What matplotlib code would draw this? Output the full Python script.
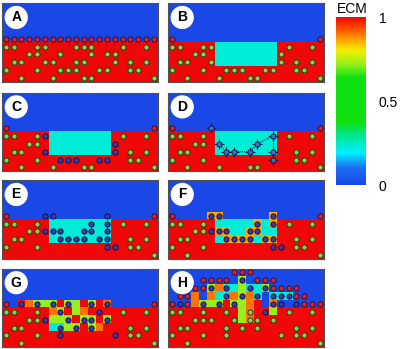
import numpy as np
import matplotlib
matplotlib.use("Agg")
import matplotlib.pyplot as plt
from matplotlib.colors import LinearSegmentedColormap

plt.rcParams['font.family'] = ['Liberation Sans', 'DejaVu Sans']

# ECM level for each letter code in the grids below
ecm_codes = {"b": 0.0, "c": 0.23, "l": 0.72, "a": 0.86, "o": 0.9, "r": 1.0}

cmap_stops = [0.0, 0.1, 0.19, 0.3, 0.37, 0.64, 0.72, 0.8, 0.86, 0.93, 1.0]
cmap_cols = ["#1a48e6", "#1e6ef0", "#00f0ff", "#00e68c", "#10e010", "#10e010",
             "#96f01e", "#f0f000", "#ffaa00", "#ff5000", "#f00808"]

BLUE = "bbbbbbbbbbbbbbbbbbbb"
RED = "rrrrrrrrrrrrrrrrrrrr"
HOLE = "rrrrrrccccccccrrrrrr"

# grids: top row first, 20 columns x 10 rows
ecm_A = [BLUE] * 5 + [RED] * 5
ecm_B = [BLUE] * 5 + [HOLE] * 3 + [RED] * 2
ecm_F = [BLUE] * 4 + ["bbbbbaabbbbbbabbbbbb",
                      "rrrrrrcccccacarrrrrr",
                      "rrrrrraaccaaccrrrrrr",
                      "rrrrrrcaaaacaarrrrrr"] + [RED] * 2
ecm_G = [BLUE] * 4 + ["bbrolllrllrlrobbbbbb",
                      "rrrrrrolrlorrrrrrrrr",
                      "rrrrrrlllrllrlrrrrrr",
                      "rrrrrrccllrlorrrrrrr"] + [RED] * 2
ecm_H = [BLUE,
         "bbbbbbbbblbbbbbbbbbb",
         "bbbbblocclcclbbbbbbb",
         "bbboboccolocbcccbbbb",
         "bbbolllrllorbobbbbbb",
         "rrrrrrrrrlorrlrrrrrr",
         "rrrrrrrrrlorrrrrrrrr"] + [RED] * 3

# cells as (column, row), row 0 at the bottom
green_A = [(0, 4), (1, 4), (4, 4), (5, 4), (9, 4), (10, 4), (11, 4), (15, 4), (18, 4),
           (3, 3), (4, 3), (7, 3), (11, 3), (13, 3), (14, 3),
           (1, 2), (2, 2), (5, 2), (6, 2), (9, 2), (10, 2), (14, 2), (16, 2), (18, 2),
           (0, 1), (4, 1), (7, 1), (8, 1), (9, 1), (12, 1), (13, 1), (16, 1), (17, 1),
           (2, 0), (6, 0), (10, 0), (11, 0), (19, 0)]
red_A = [(c, 5) for c in range(20)]

green_B = [(0, 4), (1, 4), (4, 4), (5, 4), (15, 4), (18, 4),
           (3, 3), (4, 3), (14, 3),
           (1, 2), (2, 2), (5, 2), (14, 2), (16, 2), (18, 2),
           (0, 1), (4, 1), (7, 1), (8, 1), (9, 1), (12, 1), (13, 1), (16, 1), (17, 1),
           (2, 0), (6, 0), (10, 0), (11, 0), (19, 0)]
edge_red = [(0, 5), (19, 5)]

green_C = [(0, 4), (1, 4), (4, 4), (15, 4), (18, 4), (3, 3), (4, 3),
           (1, 2), (2, 2), (16, 2), (18, 2), (0, 1), (4, 1), (16, 1), (17, 1),
           (2, 0), (6, 0), (10, 0), (11, 0), (19, 0)]
blue_C = [(5, 4), (14, 3), (5, 2), (14, 2), (7, 1), (8, 1), (9, 1), (12, 1), (13, 1)]

blue_D = [(5, 5), (6, 3), (7, 2), (8, 2), (10, 2), (11, 3), (13, 4), (13, 2), (13, 1)]
path_D = [(6, 3), (7, 2), (8, 2), (10, 2), (11, 3), (13, 4), (13, 2), (13, 1)]

green_E = [(0, 4), (1, 4), (4, 4), (15, 4), (18, 4), (3, 3), (4, 3),
           (1, 2), (2, 2), (16, 2), (18, 2), (0, 1), (4, 1), (16, 1), (17, 1), (19, 0)]
blue_E = [(5, 5), (6, 5), (13, 5), (11, 4), (13, 4),
          (5, 3), (6, 3), (7, 3), (10, 3), (11, 3), (13, 3),
          (7, 2), (8, 2), (9, 2), (10, 2), (12, 2), (13, 2), (13, 1), (14, 1)]

green_F = [(0, 4), (1, 4), (4, 4), (15, 4), (18, 4), (3, 3), (4, 3),
           (1, 2), (2, 2), (16, 2), (18, 2), (0, 1), (4, 1), (16, 1), (17, 1),
           (2, 0), (19, 0)]
blue_F = [(5, 5), (6, 5), (13, 5), (11, 4), (13, 4),
          (5, 3), (6, 3), (7, 3), (10, 3), (11, 3),
          (7, 2), (8, 2), (9, 2), (10, 2), (12, 2), (13, 2), (13, 1), (14, 1)]

blue_G = [(2, 5), (4, 5), (6, 5), (8, 5), (11, 5), (13, 5), (7, 4), (12, 4),
          (5, 3), (8, 3), (10, 3), (11, 3), (13, 3), (7, 2), (9, 2), (11, 2),
          (7, 1), (14, 1)]

red_H = [(8, 9), (9, 9), (10, 9),
         (4, 8), (5, 8), (6, 8), (7, 8), (11, 8), (12, 8), (13, 8),
         (3, 7), (4, 7), (13, 7), (14, 7), (15, 7), (16, 7),
         (1, 6), (2, 6), (16, 6), (17, 6),
         (0, 5), (2, 5), (17, 5), (18, 5), (19, 5)]
blue_H = [(9, 8), (5, 7), (7, 7), (10, 7), (12, 7),
          (7, 6), (9, 6), (11, 6), (13, 6), (14, 6), (15, 6),
          (1, 5), (4, 5), (6, 5), (8, 5), (13, 5), (14, 5), (16, 5), (12, 4)]
green_H = [(0, 4), (1, 4), (4, 4), (7, 4), (10, 4), (15, 4), (18, 4),
           (3, 3), (4, 3), (5, 3), (8, 3), (10, 3), (11, 3), (13, 3),
           (1, 2), (2, 2), (7, 2), (9, 2), (11, 2), (16, 2), (18, 2),
           (0, 1), (4, 1), (7, 1), (14, 1), (16, 1), (17, 1), (2, 0), (19, 0)]

panels = {
    "A": (ecm_A, green_A, red_A, []),
    "B": (ecm_B, green_B, edge_red, []),
    "C": (ecm_B, green_C, edge_red, blue_C),
    "D": (ecm_B, green_C, edge_red, blue_D),
    "E": (ecm_B, green_E, edge_red, blue_E),
    "F": (ecm_F, green_F, edge_red, blue_F),
    "G": (ecm_G, green_F, edge_red, blue_G),
    "H": (ecm_H, green_H, red_H, blue_H),
}

cmap = LinearSegmentedColormap.from_list("ecm", list(zip(cmap_stops, cmap_cols)))

W, H = 401, 349
fig = plt.figure(figsize=(W / 100, H / 100), dpi=100)

lefts = [2, 168]
tops = [3.3, 92.7, 180.3, 268.5]
pw, ph = 155.5, 78.7


def draw_cells(ax, pts, face, edge):
    if not pts:
        return
    xs = [c + 0.5 for c, r in pts]
    ys = [r + 0.5 for c, r in pts]
    ax.scatter(xs, ys, s=14, c=face, edgecolors=edge, linewidths=0.7, zorder=4)


for i, (name, (grid, green, red, blue)) in enumerate(panels.items()):
    row, col = divmod(i, 2)
    ax = fig.add_axes([lefts[col] / W, 1 - (tops[row] + ph) / H, pw / W, ph / H])
    vals = np.array([[ecm_codes[ch] for ch in line] for line in grid])
    ax.imshow(vals, cmap=cmap, vmin=0, vmax=1, extent=(0, 20, 0, 10),
              origin="upper", aspect="auto", interpolation="nearest")
    if name == "D":
        px = [c + 0.5 for c, r in path_D]
        py = [r + 0.5 for c, r in path_D]
        ax.plot(px[:6], py[:6], ls=(0, (1, 1)), color="#102040", lw=0.8, zorder=3)
        ax.plot(px[5:], py[5:], ls=(0, (1, 1)), color="#102040", lw=0.8, zorder=3)
        ax.scatter([c + 0.5 for c, r in blue], [r + 0.5 for c, r in blue], s=60,
                   marker="+", c="#102040", linewidths=0.8, zorder=3)
        draw_cells(ax, blue, "#4070c0", "#101840")
    else:
        draw_cells(ax, blue, "#3a3ab0", "#101040")
    draw_cells(ax, green, "#8fd14f", "#2a3a10")
    draw_cells(ax, red, "#d4213d", "#3b1020")
    ax.scatter([1.83], [8.2], s=280, c="white", edgecolors="none", zorder=5)
    ax.text(1.83, 8.2, name, ha="center", va="center", fontsize=10,
            fontweight="bold", zorder=6)
    ax.set_xlim(0, 20)
    ax.set_ylim(0, 10)
    ax.set_xticks([])
    ax.set_yticks([])
    for sp in ax.spines.values():
        sp.set_color("#505050")
        sp.set_linewidth(0.8)

cax = fig.add_axes([336 / W, 1 - 185 / H, 30 / W, 167.7 / H])
grad = np.linspace(0, 1, 256).reshape(-1, 1)
cax.imshow(grad, cmap=cmap, aspect="auto", origin="lower", extent=(0, 1, 0, 1))
cax.set_xticks([])
cax.yaxis.tick_right()
cax.set_yticks([0, 0.5, 1])
cax.set_yticklabels(["0", "0.5", "1"])
cax.tick_params(axis="y", length=0, pad=9, labelsize=10)
for sp in cax.spines.values():
    sp.set_visible(False)
fig.text(352 / W, 1 - 9 / H, "ECM", ha="center", va="center", fontsize=10)

fig.savefig("out.png", dpi=100)
